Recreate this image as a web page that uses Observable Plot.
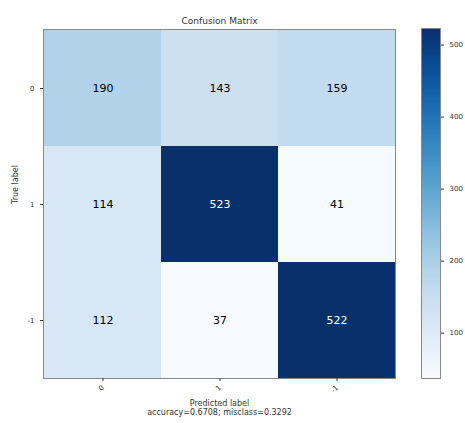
<!DOCTYPE html>
<html><head><meta charset="utf-8">
<script src="https://cdn.jsdelivr.net/npm/d3@7"></script>
<script src="https://cdn.jsdelivr.net/npm/@observablehq/plot@0.6"></script>
<style>
body{margin:0;background:#fff;font-family:"DejaVu Sans",sans-serif;}
#wrap{position:relative;width:465px;height:423px;}
#wrap svg{position:absolute;left:0;top:0;}
</style></head>
<body><div id="wrap"></div>
<script>
const classes = ["0", "1", "-1"];
const counts = [
  [190, 143, 159],
  [114, 523, 41],
  [112, 37, 522]
];
const barTicks = [100, 200, 300, 400, 500];
const titleText = "Confusion Matrix";
const xLabel = "Predicted label";
const yLabel = "True label";

const data = [];
counts.forEach((row, i) => row.forEach((v, j) => data.push({t: classes[i], p: classes[j], v})));
const flat = counts.flat();
const vmin = d3.min(flat), vmax = d3.max(flat);
const total = d3.sum(flat);
const acc = d3.sum(counts.map((r, i) => r[i])) / total;
const caption = `accuracy=${acc.toFixed(4)}; misclass=${(1 - acc).toFixed(4)}`;
const thresh = vmax / 2;

const font = "DejaVu Sans, sans-serif";
const main = Plot.plot({
  width: 465, height: 423,
  marginLeft: 43, marginRight: 70, marginTop: 29, marginBottom: 45,
  style: {fontFamily: font, fontSize: "7px", color: "#333", background: "transparent"},
  x: {domain: classes, padding: 0, label: null, tickRotate: -45, tickSize: 3},
  y: {domain: classes, padding: 0, label: null, tickSize: 3},
  color: {type: "linear", scheme: "blues", domain: [vmin, vmax]},
  marks: [
    Plot.cell(data, {x: "p", y: "t", fill: "v"}),
    Plot.text(data, {x: "p", y: "t", text: d => String(d.v), fill: d => d.v > thresh ? "white" : "black", fontSize: 11}),
    Plot.frame({stroke: "#888"}),
    Plot.axisX({tickRotate: -45, tickSize: 3, label: null, fontSize: 7, tickPadding: 5}),
    Plot.axisY({tickSize: 3, label: null, fontSize: 7}),
    Plot.text([titleText], {frameAnchor: "top", dy: -12, fontSize: 9, fill: "#333"}),
    Plot.text([xLabel], {frameAnchor: "bottom", dy: 27, fontSize: 8, fill: "#333"}),
    Plot.text([caption], {frameAnchor: "bottom", dy: 36, fontSize: 8, fill: "#333"}),
    Plot.text([yLabel], {frameAnchor: "left", dx: -28, rotate: -90, fontSize: 8, fill: "#333"})
  ]
});

const steps = d3.range(vmin, vmax, 1).map(v => ({v}));
const bar = Plot.plot({
  width: 465, height: 423,
  marginLeft: 421, marginRight: 25, marginTop: 28, marginBottom: 45,
  style: {fontFamily: font, fontSize: "7px", color: "#333", background: "transparent"},
  x: {axis: null, domain: [0, 1]},
  y: {domain: [vmin, vmax], axis: null},
  color: {type: "linear", scheme: "blues", domain: [vmin, vmax]},
  marks: [
    Plot.rect(steps, {x1: 0, x2: 1, y1: "v", y2: d => Math.min(d.v + 1, vmax), fill: "v", stroke: "v", strokeWidth: 0.8, shapeRendering: "crispEdges"}),
    Plot.frame({stroke: "#888"}),
    Plot.axisY(barTicks, {anchor: "right", tickSize: 3, fontSize: 7, label: null})
  ]
});

const wrap = document.getElementById("wrap");
wrap.appendChild(main);
wrap.appendChild(bar);
</script></body></html>
